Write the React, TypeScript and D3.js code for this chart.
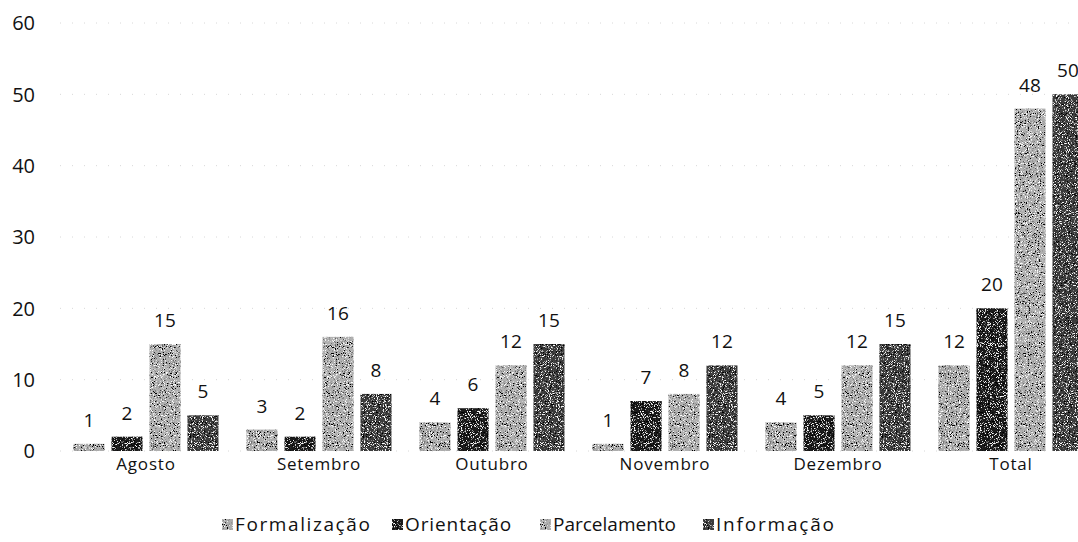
import React from "react";
import * as d3 from "d3";

const categories = ["Agosto", "Setembro", "Outubro", "Novembro", "Dezembro", "Total"];
const seriesNames = ["Formalização", "Orientação", "Parcelamento", "Informação"];
const formalizacao = [1, 3, 4, 1, 4, 12];
const orientacao = [2, 2, 6, 7, 5, 20];
const parcelamento = [15, 16, 12, 8, 12, 48];
const informacao = [5, 8, 15, 12, 15, 50];
const yTicks = [0, 10, 20, 30, 40, 50, 60];

const seriesValues = [formalizacao, orientacao, parcelamento, informacao];
const fills = ["#acacac", "#1e1e1e", "#b0b0b0", "#3e3e3e"];

const W = 1078;
const H = 542;
const FONT = "'Open Sans', 'Noto Sans', sans-serif";

export default function App() {
  const y = d3.scaleLinear().domain([0, 60]).range([451, 23]);
  const x0 = d3
    .scaleBand<string>()
    .domain(categories)
    .range([59.5, 1097.5])
    .paddingInner(0.162)
    .paddingOuter(0.081);
  const x1 = d3
    .scaleBand<string>()
    .domain(seriesNames)
    .range([0, x0.bandwidth()])
    .paddingInner(0.184)
    .paddingOuter(0);

  const legendX = [222, 392, 540, 703];
  const legendSpacing = [1.6, 0.9, 0, 1.8];

  return (
    <svg width={W} height={H} style={{ position: "absolute", left: 0, top: 0, background: "#fff" }} fontFamily={FONT}>
      <defs>
        <filter id="grain" x="0" y="0" width="100%" height="100%">
          <feTurbulence type="fractalNoise" baseFrequency="1.1" numOctaves="2" seed="3" result="n" />
          <feColorMatrix
            in="n"
            type="matrix"
            values="0 0 0 0 1  0 0 0 0 1  0 0 0 0 1  7 0 0 0 -3.9"
            result="white"
          />
          <feColorMatrix
            in="n"
            type="matrix"
            values="0 0 0 0 0  0 0 0 0 0  0 0 0 0 0  0 -7 0 0 3.1"
            result="black"
          />
          <feComposite in="white" in2="SourceGraphic" operator="in" result="w2" />
          <feComposite in="black" in2="SourceGraphic" operator="in" result="b2" />
          <feMerge>
            <feMergeNode in="SourceGraphic" />
            <feMergeNode in="w2" />
            <feMergeNode in="b2" />
          </feMerge>
        </filter>
      </defs>
      <rect x={0} y={0} width={W} height={H} fill="#fff" />
      {yTicks.map((t) => (
        <g key={t}>
          <line
            x1={60}
            x2={W}
            y1={y(t)}
            y2={y(t)}
            stroke="#d8d8d8"
            strokeWidth={1}
            strokeDasharray="1 11"
          />
          <text x={35} y={y(t)} dy="0.36em" textAnchor="end" fontSize={20} fill="#111">
            {t}
          </text>
        </g>
      ))}
      {categories.map((c, ci) => (
        <g key={c} transform={`translate(${x0(c)},0)`}>
          {seriesNames.map((s, si) => {
            const v = seriesValues[si][ci];
            const bx = x1(s) as number;
            return (
              <g key={s}>
                <rect
                  x={bx}
                  y={y(v)}
                  width={x1.bandwidth()}
                  height={y(0) - y(v)}
                  fill={fills[si]}
                  filter="url(#grain)"
                />
                <text
                  x={bx + x1.bandwidth() / 2}
                  y={y(v) - 17}
                  textAnchor="middle"
                  fontSize={19}
                  fill="#111"
                >
                  {v}
                </text>
              </g>
            );
          })}
          <text x={x0.bandwidth() / 2} y={470} textAnchor="middle" fontSize={17} letterSpacing={0.8} fill="#111">
            {c}
          </text>
        </g>
      ))}
      {seriesNames.map((s, si) => (
        <g key={s} transform={`translate(${legendX[si]},0)`}>
          <rect x={0} y={519} width={11} height={11} fill={fills[si]} filter="url(#grain)" />
          <text x={13} y={531} fontSize={19} letterSpacing={legendSpacing[si]} fill="#111">
            {s}
          </text>
        </g>
      ))}
    </svg>
  );
}
